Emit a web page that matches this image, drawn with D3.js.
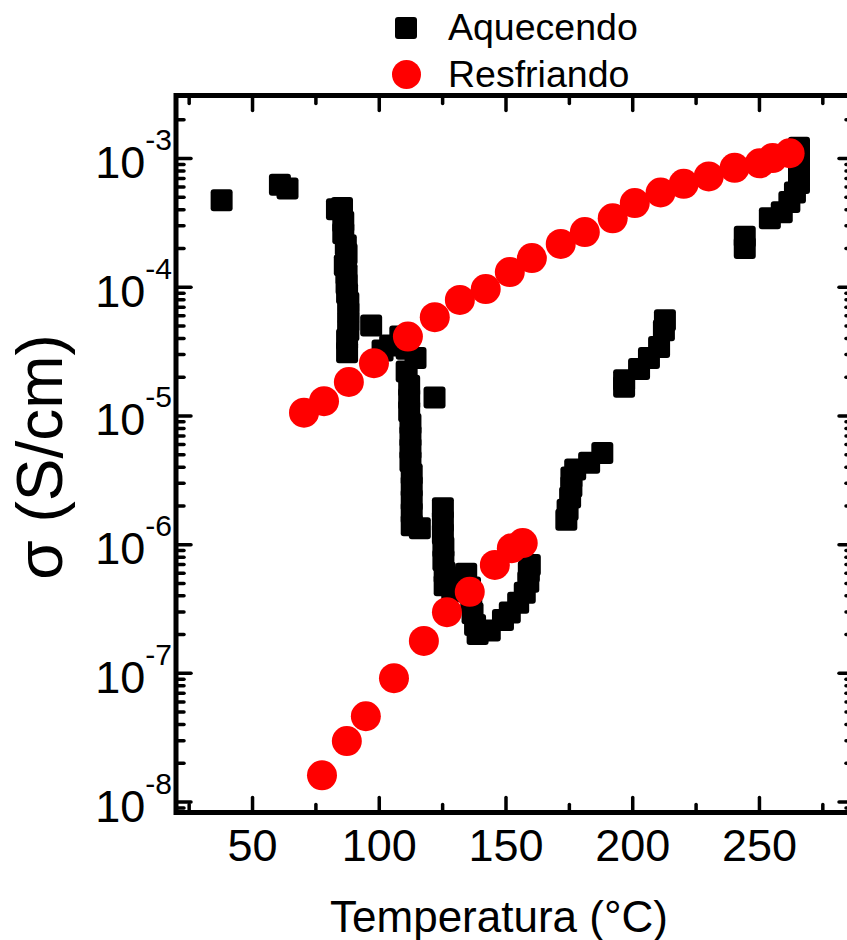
<!DOCTYPE html>
<html><head><meta charset="utf-8">
<script src="https://cdn.jsdelivr.net/npm/d3@7"></script>
<style>html,body{margin:0;padding:0;background:#fff;} svg{display:block;font-family:"Liberation Sans",Arial,sans-serif;}</style>
</head><body><svg id="c" width="847" height="940"></svg>
<script>
// ---- data ----
const tempAquecendo = [38,61,64,83.5,85.5,86,86,87,87.3,86.6,87.3,87.3,87.5,88,88,88,88,87.5,87.5,
  97,101.5,104.5,108.5,111,114.5,111,122,
  112,112,112,112.5,112.5,112.5,112.5,113,113,113,113,113,116.2,
  125.3,125.3,125.3,125.5,125.5,126,126,129,131.5,134.5,136,136.5,137,138,139,
  143.8,149,151.7,155,157.6,159,159.2,159.6,
  174,174.5,175.5,176,176,177.5,183,188.2,
  196.8,196.8,202.7,206.6,210.6,212.5,212.9,
  244.4,244.4,254.3,259,262,264.2,265.8,265.8,265.8,265.8,265.8];
const sigmaAquecendo = [4.7e-4,6.2e-4,5.8e-4,4.0e-4,4.1e-4,3.2e-4,2.6e-4,2.1e-4,1.8e-4,1.47e-4,1.25e-4,1.05e-4,8.9e-5,7.5e-5,6.3e-5,5.4e-5,4.6e-5,3.9e-5,3.1e-5,
  5.0e-5,3.2e-5,3.5e-5,4.1e-5,3.3e-5,2.8e-5,2.2e-5,1.38e-5,
  1.7e-5,1.35e-5,1.08e-5,8.6e-6,6.9e-6,5.5e-6,4.4e-6,3.5e-6,2.8e-6,2.2e-6,1.75e-6,1.4e-6,1.33e-6,
  1.9e-6,1.5e-6,1.2e-6,9.5e-7,7.5e-7,6.0e-7,4.8e-7,4.3e-7,5.5e-7,5.9e-7,4.6e-7,3.6e-7,2.9e-7,2.35e-7,2.0e-7,
  2.13e-7,2.57e-7,2.95e-7,3.5e-7,4.2e-7,5.1e-7,6.1e-7,6.9e-7,
  1.55e-6,1.85e-6,2.3e-6,2.8e-6,3.3e-6,3.8e-6,4.3e-6,5.1e-6,
  1.67e-5,1.88e-5,2.3e-5,2.8e-5,3.4e-5,4.6e-5,5.5e-5,
  2.0e-4,2.45e-4,3.4e-4,3.8e-4,4.55e-4,5.4e-4,6.4e-4,7.4e-4,8.9e-4,1.05e-3,1.2e-3];

const tempResfriando = [70.5,78.4,88.2,98.1,111.5,122.1,132,142.2,151.7,160.4,171.8,181.3,192.3,201,211.2,220.3,230.2,240.4,250.3,255.4,262.1,
  77.6,87.4,94.9,106,117.8,126.9,135.9,145.8,152.5,156.8];
const sigmaResfriando = [1.05e-5,1.29e-5,1.82e-5,2.55e-5,4.1e-5,5.8e-5,7.9e-5,9.6e-5,1.3e-4,1.67e-4,2.15e-4,2.66e-4,3.4e-4,4.47e-4,5.4e-4,6.3e-4,7.2e-4,8.4e-4,9.1e-4,1.0e-3,1.09e-3,
  1.6e-8,2.95e-8,4.6e-8,9.1e-8,1.77e-7,2.96e-7,4.26e-7,6.9e-7,9.3e-7,1.02e-6];

const xTickValues = [50,100,150,200,250];
const xMinorValues = [25,75,125,175,225,275];
const yExponents = [-8,-7,-6,-5,-4,-3];
const seriesNames = ["Aquecendo","Resfriando"];
const xTitle = "Temperatura (°C)";
const yTitle = "σ (S/cm)";

// ---- layout ----
const svg = d3.select("#c");
const L=176, R=854, T=95.5, B=812.5;
const x = d3.scaleLinear().domain([20,287.5]).range([L,R]);
const y = d3.scaleLog().domain([Math.pow(10,-8.085), Math.pow(10,-2.514)]).range([B,T]);

const yMajor = yExponents.map(e=>Math.pow(10,e));
const yMinor = [];
for (let e=-9; e<=-3; e++) for (let m=2; m<=9; m++) {
  const v = m*Math.pow(10,e);
  const py = y(v);
  if (py < B-3 && py > T+3) yMinor.push(v);
}

function styleAxis(g){
  g.select(".domain").remove();
  g.selectAll(".tick line").attr("stroke","#000").attr("stroke-width",3.5).attr("stroke-linecap","round");
}

// minor & major ticks
svg.append("g").attr("transform",`translate(0,${B})`)
  .call(d3.axisBottom(x).tickValues(xMinorValues).tickSize(-8).tickFormat("")).call(styleAxis);
svg.append("g").attr("transform",`translate(0,${B})`)
  .call(d3.axisBottom(x).tickValues(xTickValues).tickSize(-15).tickPadding(17).tickFormat(d3.format("d")))
  .call(styleAxis)
  .call(g=>g.selectAll("text").attr("font-size",45).attr("fill","#000").attr("font-family","Liberation Sans, Arial, sans-serif"));
svg.append("g").attr("transform",`translate(0,${T})`)
  .call(d3.axisTop(x).tickValues(xMinorValues).tickSize(-8).tickFormat("")).call(styleAxis);
svg.append("g").attr("transform",`translate(0,${T})`)
  .call(d3.axisTop(x).tickValues(xTickValues).tickSize(-15).tickFormat("")).call(styleAxis);

svg.append("g").attr("transform",`translate(${L},0)`)
  .call(d3.axisLeft(y).tickValues(yMinor).tickSize(-8).tickFormat("")).call(styleAxis);
svg.append("g").attr("transform",`translate(${L},0)`)
  .call(d3.axisLeft(y).tickValues(yMajor).tickSize(-15).tickFormat("")).call(styleAxis);
svg.append("g").attr("transform",`translate(${R},0)`)
  .call(d3.axisRight(y).tickValues(yMinor).tickSize(-8).tickFormat("")).call(styleAxis);
svg.append("g").attr("transform",`translate(${R},0)`)
  .call(d3.axisRight(y).tickValues(yMajor).tickSize(-15).tickFormat("")).call(styleAxis);

// y tick labels with superscripts
const yl = svg.append("g").selectAll("text").data(yExponents).join("text")
  .attr("x",172).attr("y",e=>y(Math.pow(10,e))+20)
  .attr("text-anchor","end").attr("font-size",45).attr("fill","#000");
yl.append("tspan").text("10");
yl.append("tspan").attr("font-size",30).attr("dy",-28).text(e=>String(e));

// frame
svg.append("rect").attr("x",L).attr("y",T).attr("width",R-L).attr("height",B-T)
  .attr("fill","none").attr("stroke","#000").attr("stroke-width",5);

// data
const aq = tempAquecendo.map((t,i)=>({t, s:sigmaAquecendo[i]}));
const re = tempResfriando.map((t,i)=>({t, s:sigmaResfriando[i]}));
const sq = 22;
svg.append("g").selectAll("rect").data(aq).join("rect")
  .attr("x",d=>x(d.t)-sq/2).attr("y",d=>y(d.s)-sq/2).attr("width",sq).attr("height",sq)
  .attr("rx",3).attr("fill","#000");
svg.append("g").selectAll("circle").data(re).join("circle")
  .attr("cx",d=>x(d.t)).attr("cy",d=>y(d.s)).attr("r",15).attr("fill","#ff0000");

// legend
const lg = svg.append("g");
lg.append("rect").attr("x",406-11).attr("y",28-11).attr("width",22).attr("height",22).attr("rx",3).attr("fill","#000");
lg.append("circle").attr("cx",406.5).attr("cy",74.5).attr("r",14.5).attr("fill","#ff0000");
lg.selectAll("text").data(seriesNames).join("text")
  .attr("x",448).attr("y",(d,i)=>i===0?40:87).attr("font-size",37.5).attr("fill","#000").text(d=>d);

// axis titles
svg.append("text").attr("x",499).attr("y",932).attr("text-anchor","middle")
  .attr("font-size",44).attr("fill","#000").text(xTitle);
svg.append("text").attr("transform","translate(62,457) rotate(-90)").attr("text-anchor","middle")
  .attr("font-size",64).attr("fill","#000").text(yTitle);
</script></body></html>
